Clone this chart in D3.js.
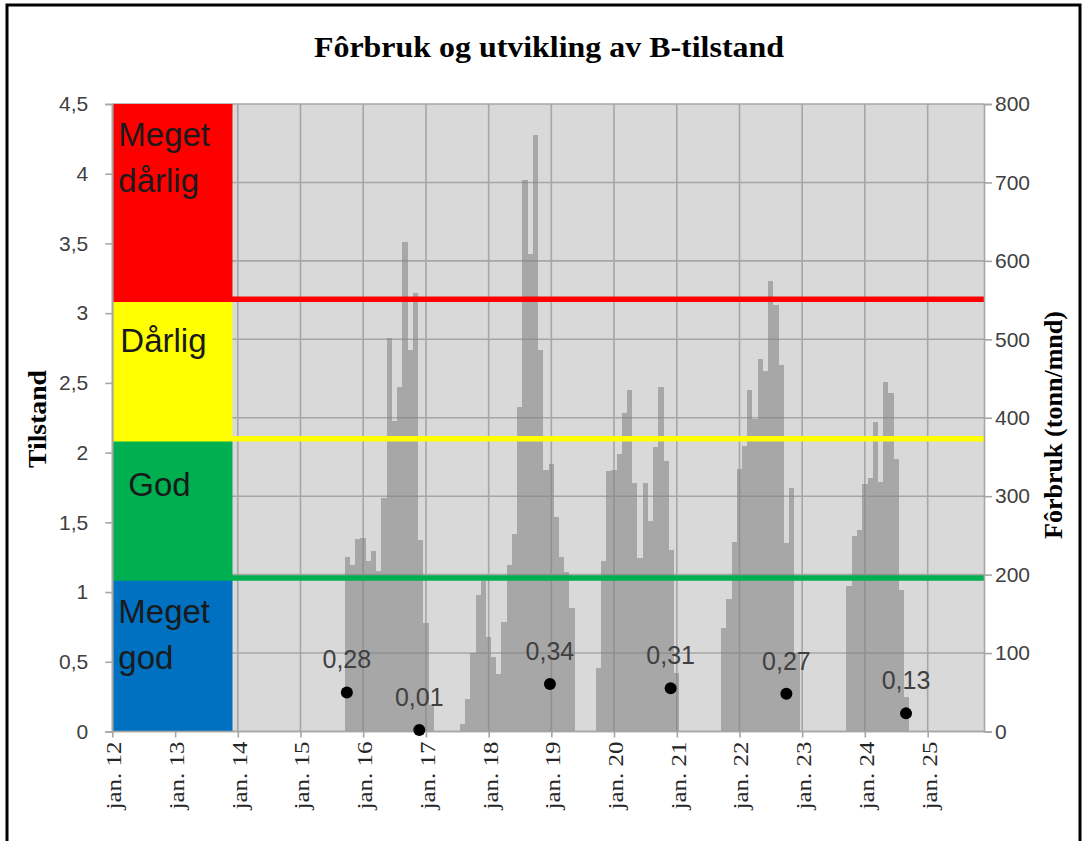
<!DOCTYPE html>
<html>
<head>
<meta charset="utf-8">
<script src="https://cdn.jsdelivr.net/npm/d3@7"></script>
<style>
html, body { margin: 0; padding: 0; background: #fff; }
svg { display: block; }
</style>
</head>
<body>
<svg id="chart" width="1088" height="841"></svg>
<script>
/* Data */

// Fôrbruk per month (tonn/mnd), right axis. One bar per month.
var forbrukMonths = [
	"2015-10", "2015-11", "2015-12", "2016-01", "2016-02", "2016-03", "2016-04", "2016-05",
	"2016-06", "2016-07", "2016-08", "2016-09", "2016-10", "2016-11", "2016-12", "2017-01", "2017-02",
	"2017-08", "2017-09", "2017-10", "2017-11", "2017-12", "2018-01", "2018-02", "2018-03",
	"2018-04", "2018-05", "2018-06", "2018-07", "2018-08", "2018-09", "2018-10", "2018-11",
	"2018-12", "2019-01", "2019-02", "2019-03", "2019-04", "2019-05",
	"2019-10", "2019-11", "2019-12", "2020-01", "2020-02", "2020-03", "2020-04", "2020-05",
	"2020-06", "2020-07", "2020-08", "2020-09", "2020-10", "2020-11", "2020-12", "2021-01",
	"2021-10", "2021-11", "2021-12", "2022-01", "2022-02", "2022-03", "2022-04", "2022-05",
	"2022-06", "2022-07", "2022-08", "2022-09", "2022-10", "2022-11", "2022-12",
	"2023-10", "2023-11", "2023-12", "2024-01", "2024-02", "2024-03", "2024-04", "2024-05",
	"2024-06", "2024-07", "2024-08", "2024-09"
];
var forbrukTonn = [
	223, 212, 246, 247, 217, 230, 205, 298,
	502, 396, 439, 624, 487, 559, 244, 138, 34,
	9, 41, 100, 174, 192, 121, 95, 73,
	140, 212, 252, 414, 703, 609, 760, 486,
	333, 341, 273, 223, 203, 157,
	81, 217, 332, 334, 354, 406, 436, 317,
	221, 317, 269, 363, 439, 345, 232, 74,
	132, 169, 242, 335, 364, 436, 399, 475,
	460, 574, 544, 467, 240, 311, 100,
	185, 249, 257, 316, 323, 394, 318, 446,
	432, 347, 181, 44
];

// B-tilstand per survey (left axis).
var bDates = ["2015-09-28", "2016-11-23", "2018-12-24", "2020-11-26", "2022-10-01", "2024-08-28"];
var bValues = [0.28, 0.01, 0.34, 0.31, 0.27, 0.13];

// Condition zones (left axis) and their names.
var zoneLimits = [0, 1.1, 2.1, 3.1, 4.5];
var zoneNames = [["Meget", "god"], ["God"], ["Dårlig"], ["Meget", "dårlig"]];
var zoneColors = ["#0070c0", "#00b050", "#ffff00", "#ff0000"];

// Axis ticks.
var leftTicks = [0, 0.5, 1, 1.5, 2, 2.5, 3, 3.5, 4, 4.5];
var rightTicks = [0, 100, 200, 300, 400, 500, 600, 700, 800];
var yearTicks = [2012, 2013, 2014, 2015, 2016, 2017, 2018, 2019, 2020, 2021, 2022, 2023, 2024, 2025];

/* Setup */

var svg = d3.select("#chart");
var plot = { left: 112.3, right: 984, top: 104, bottom: 731.5 };
var gridColor = "#a6a6a6";
var sansFont = "'Liberation Sans', Arial, sans-serif";
var serifFont = "'Liberation Serif', 'Times New Roman', serif";

var parseMonth = d3.timeParse("%Y-%m");
var parseDay = d3.timeParse("%Y-%m-%d");

// Norwegian number format: comma as decimal mark.
var noLocale = d3.formatLocale({ decimal: ",", thousands: " ", grouping: [3], currency: ["kr ", ""] });
var fmtTick = noLocale.format("~g");
var fmtLabel = noLocale.format(".2f");

var x = d3.scaleTime()
	.domain([new Date(2012, 0, 1), new Date(2025, 10, 25)])
	.range([plot.left, plot.right]);
var yL = d3.scaleLinear().domain([0, 4.5]).range([plot.bottom, plot.top]);
var yR = d3.scaleLinear().domain([0, 800]).range([plot.bottom, plot.top]);

var forbruk = forbrukMonths.map(function (m, i) {
	return { date: parseMonth(m), value: forbrukTonn[i] };
});
var bPoints = bDates.map(function (d, i) {
	return { date: parseDay(d), value: bValues[i] };
});
var years = yearTicks.map(function (y) { return new Date(y, 0, 1); });
var bandEnd = new Date(2013, 11, 1);

// A month's bar is centred on its first day, so its edges lie halfway to
// the neighbouring months. Rounded so that touching bars share an edge.
function barLeft(d) {
	return Math.round((x(d3.timeMonth.offset(d.date, -1)) + x(d.date)) / 2);
}
function barRight(d) {
	return Math.round((x(d.date) + x(d3.timeMonth.offset(d.date, 1))) / 2);
}

/* Frame and title */

svg.append("rect")
	.attr("x", 7).attr("y", 5).attr("width", 1073).attr("height", 850)
	.attr("fill", "#fff").attr("stroke", "#000").attr("stroke-width", 3);

svg.append("text")
	.attr("x", 549).attr("y", 57)
	.attr("text-anchor", "middle")
	.attr("font-family", serifFont).attr("font-weight", "bold").attr("font-size", 30)
	.attr("textLength", 470).attr("lengthAdjust", "spacingAndGlyphs")
	.text("Fôrbruk og utvikling av B-tilstand");

/* Plot area and gridlines */

svg.append("rect")
	.attr("x", plot.left).attr("y", plot.top)
	.attr("width", plot.right - plot.left).attr("height", plot.bottom - plot.top)
	.attr("fill", "#d9d9d9");

var grid = svg.append("g").attr("stroke", gridColor).attr("stroke-width", 1.6);
grid.selectAll("line.h").data(rightTicks).join("line").attr("class", "h")
	.attr("x1", plot.left).attr("x2", plot.right)
	.attr("y1", function (d) { return yR(d); })
	.attr("y2", function (d) { return yR(d); });
grid.selectAll("line.v").data(years).join("line").attr("class", "v")
	.attr("x1", function (d) { return x(d); })
	.attr("x2", function (d) { return x(d); })
	.attr("y1", plot.top).attr("y2", plot.bottom);

/* Fôrbruk bars. The group is see-through so the gridlines show darker
   behind the bars. */

svg.append("g").attr("opacity", 0.55)
	.selectAll("rect").data(forbruk).join("rect")
	.attr("x", barLeft)
	.attr("width", function (d) { return barRight(d) - barLeft(d); })
	.attr("y", function (d) { return yR(d.value); })
	.attr("height", function (d) { return yR(0) - yR(d.value); })
	.attr("fill", "#808080")
	.attr("shape-rendering", "crispEdges");

/* Condition zones, drawn as coloured blocks at the left */

var zones = zoneColors.map(function (c, i) {
	return { lo: zoneLimits[i], hi: zoneLimits[i + 1], color: c, name: zoneNames[i] };
});

svg.append("g").selectAll("rect").data(zones).join("rect")
	.attr("x", x(new Date(2012, 0, 1)))
	.attr("width", x(bandEnd) - x(new Date(2012, 0, 1)))
	.attr("y", function (z) { return yL(z.hi); })
	.attr("height", function (z) { return yL(z.lo) - yL(z.hi); })
	.attr("fill", function (z) { return z.color; });

// Zone names. Offsets below the top of each zone.
var nameOffsets = [[33, 79], [46], [41], [30, 76]];
var nameIndent = [6, 16, 8, 6];
var zoneText = svg.append("g")
	.attr("font-family", sansFont).attr("font-size", 33).attr("fill", "#1a1a1a");
zones.forEach(function (z, i) {
	z.name.forEach(function (line, j) {
		zoneText.append("text")
			.attr("x", plot.left + nameIndent[i])
			.attr("y", yL(z.hi) + nameOffsets[i][j])
			.attr("dominant-baseline", "central")
			.text(line);
	});
});

// Threshold lines across the whole plot, at the bottom of each zone above "Meget god".
svg.append("g").selectAll("line").data(zones.slice(1)).join("line")
	.attr("x1", plot.left).attr("x2", plot.right)
	.attr("y1", function (z) { return yL(z.lo); })
	.attr("y2", function (z) { return yL(z.lo); })
	.attr("stroke", function (z) { return z.color; })
	.attr("stroke-width", 5.5);

/* Axes */

function styleAxis(g) {
	g.select(".domain").attr("stroke", gridColor).attr("stroke-width", 1.6);
	g.selectAll(".tick line").attr("stroke", gridColor).attr("stroke-width", 1.6);
	g.selectAll(".tick text").attr("fill", "#404040");
}

svg.append("g")
	.attr("transform", "translate(" + plot.left + ",0)")
	.call(d3.axisLeft(yL).tickValues(leftTicks).tickSize(7).tickPadding(17).tickFormat(fmtTick))
	.attr("font-family", sansFont).attr("font-size", 21)
	.call(styleAxis);

svg.append("g")
	.attr("transform", "translate(" + plot.right + ",0)")
	.call(d3.axisRight(yR).tickValues(rightTicks).tickSize(8).tickPadding(3))
	.attr("font-family", sansFont).attr("font-size", 21)
	.call(styleAxis);

var xAxis = svg.append("g")
	.attr("transform", "translate(0," + plot.bottom + ")")
	.call(d3.axisBottom(x).tickValues(years).tickSize(6)
		.tickFormat(function (d) { return "jan. " + d3.timeFormat("%y")(d); }))
	.attr("font-family", serifFont).attr("font-size", 20)
	.call(styleAxis);
xAxis.select(".domain").attr("d", "M" + plot.left + ",0H" + plot.right);
xAxis.selectAll(".tick text")
	.attr("transform", "rotate(-90)")
	.attr("x", -10).attr("y", 0).attr("dy", "0.42em")
	.attr("text-anchor", "end")
	.attr("fill", "#262626")
	.attr("textLength", 68).attr("lengthAdjust", "spacingAndGlyphs");

// Axis titles.
svg.append("text")
	.attr("transform", "translate(37,419) rotate(-90)")
	.attr("text-anchor", "middle").attr("dominant-baseline", "central")
	.attr("font-family", serifFont).attr("font-weight", "bold").attr("font-size", 26)
	.attr("textLength", 98).attr("lengthAdjust", "spacingAndGlyphs")
	.text("Tilstand");

svg.append("text")
	.attr("transform", "translate(1053,425) rotate(-90)")
	.attr("text-anchor", "middle").attr("dominant-baseline", "central")
	.attr("font-family", serifFont).attr("font-weight", "bold").attr("font-size", 26)
	.attr("textLength", 228).attr("lengthAdjust", "spacingAndGlyphs")
	.text("Fôrbruk (tonn/mnd)");

/* B-tilstand points with labels */

var pts = svg.append("g");
pts.selectAll("circle").data(bPoints).join("circle")
	.attr("cx", function (d) { return x(d.date); })
	.attr("cy", function (d) { return yL(d.value); })
	.attr("r", 6)
	.attr("fill", "#000");
pts.selectAll("text").data(bPoints).join("text")
	.attr("x", function (d) { return x(d.date); })
	.attr("y", function (d) { return yL(d.value) - 24; })
	.attr("text-anchor", "middle")
	.attr("font-family", sansFont).attr("font-size", 25)
	.attr("fill", "#404040")
	.text(function (d) { return fmtLabel(d.value); });
</script>
</body>
</html>
